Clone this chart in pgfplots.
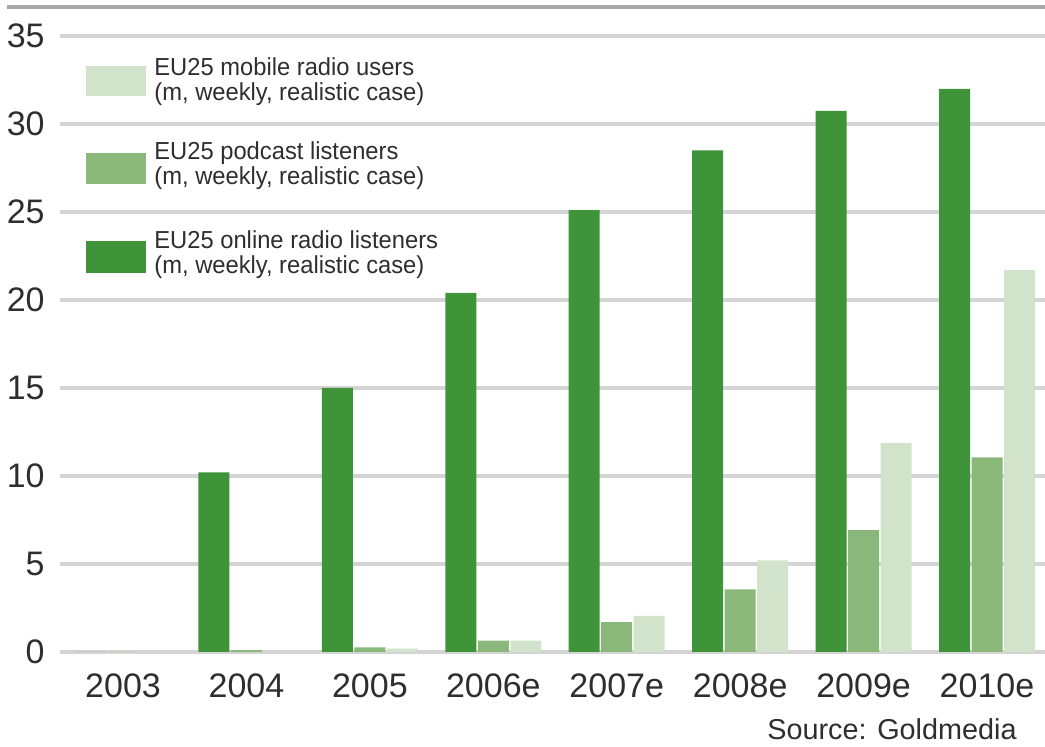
\documentclass[border=0pt]{standalone}
\usepackage{fontspec}
\setmainfont{Liberation Sans}
\newfontfamily\legendfamily[FakeStretch=0.965]{Liberation Sans}
\usepackage{pgfplots}
\usepackage{pgfplotstable}
\pgfplotsset{compat=1.18}

\definecolor{online}{HTML}{3F9439}
\definecolor{podcast}{HTML}{8AB87A}
\definecolor{mobile}{HTML}{D2E3CC}
\definecolor{gridgray}{HTML}{D4D4D4}
\definecolor{rulegray}{HTML}{A8A8A8}
\definecolor{txt}{HTML}{2E2E2E}

% EU25 audiences, million weekly users (realistic case)
\pgfplotstableread{
idx online podcast mobile
0   0      0       0
1   10.2   0.1     0
2   15.0   0.26    0.19
3   20.4   0.64    0.64
4   25.1   1.7     2.05
5   28.5   3.56    5.2
6   30.75  6.92    11.87
7   32.0   11.06   21.7
}\listeners

\newcommand{\legfont}{\legendfamily\fontsize{12.3}{12.5}\selectfont}

\begin{document}
\begin{tikzpicture}[x=1pt,y=1pt]
\useasboundingbox (-30,-47.5) rectangle (492.5,326);

% header rule
\draw[rulegray, line width=2pt] (-26.5,322.5) -- (492.5,322.5);

\begin{axis}[
  at={(0,0)}, anchor=south west,
  scale only axis, width=492.5pt, height=308pt,
  xmin=-0.511, xmax=7.47, ymin=0, ymax=35,
  ybar, bar width=15.5pt,
  ytick={0,5,...,35},
  xtick={0,...,7},
  xticklabels={2003,2004,2005,2006e,2007e,2008e,2009e,2010e},
  ymajorgrids, grid style={gridgray, line width=2pt},
  axis line style={draw=none},
  major tick length=0pt, tick style={draw=none},
  tick label style={font=\fontsize{17}{20}\selectfont, text=txt},
  yticklabel style={anchor=east, inner sep=0pt, xshift=-7.5pt},
  xticklabel style={anchor=base, inner sep=0pt, yshift=-23pt},
  /pgf/number format/assume math mode=true,
  clip=false,
]
\addplot[fill=online,  draw=none, bar shift=-16.25pt] table[x=idx, y=online]  {\listeners};
\addplot[fill=podcast, draw=none, bar shift=0pt]      table[x=idx, y=podcast] {\listeners};
\addplot[fill=mobile,  draw=none, bar shift=16.25pt]  table[x=idx, y=mobile]  {\listeners};
\end{axis}

% legend
\fill[mobile]  (13,278)   rectangle (43,293);
\fill[podcast] (13,234)   rectangle (43,249.5);
\fill[online]  (13,189.5) rectangle (43,205.5);
\begin{scope}[every node/.style={anchor=base west, inner sep=0pt, text=txt, font=\legfont}]
\node at (47,288)   {EU25 mobile radio users};
\node at (47,275.5) {(m, weekly, realistic case)};
\node at (47,246)   {EU25 podcast listeners};
\node at (47,233.5) {(m, weekly, realistic case)};
\node at (47,201.5) {EU25 online radio listeners};
\node at (47,189)   {(m, weekly, realistic case)};
\end{scope}

\node[anchor=base east, inner sep=0pt, text=txt, font=\fontsize{14.4}{16}\selectfont]
  at (478.5,-44) {Source: Goldmedia};
\end{tikzpicture}
\end{document}
